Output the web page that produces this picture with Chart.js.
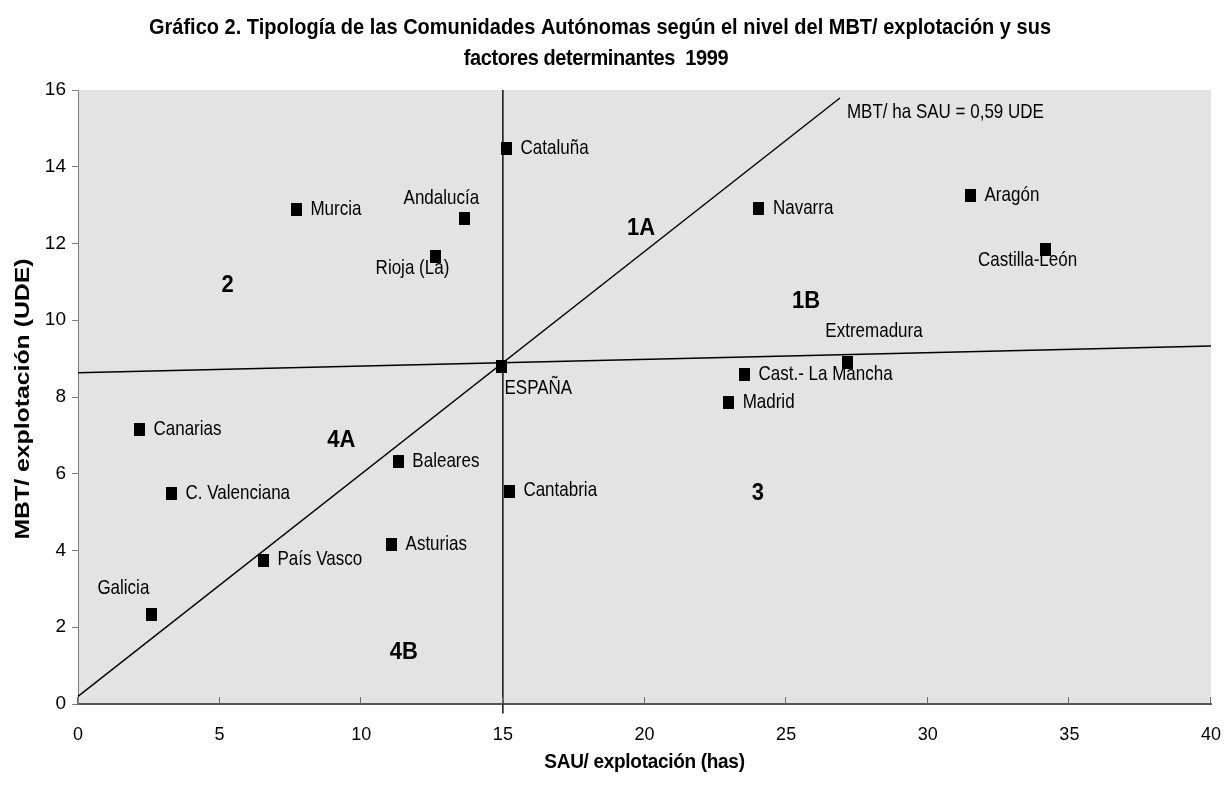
<!DOCTYPE html>
<html>
<head>
<meta charset="utf-8">
<script src="https://cdn.jsdelivr.net/npm/chart.js@4/dist/chart.umd.min.js"></script>
<style>
  html, body { margin: 0; padding: 0; background: #ffffff; }
  #wrap { width: 1226px; height: 787px; position: relative; }
</style>
</head>
<body>
<div id="wrap"><canvas id="c"></canvas></div>
<script>
// Comunidades Autónomas, 1999: SAU per holding (has) and MBT per holding (UDE)
const regions = ['Cataluña', 'Andalucía', 'Rioja (La)', 'Murcia', 'Navarra', 'Aragón',
  'Castilla-León', 'Extremadura', 'ESPAÑA', 'Cast.- La Mancha', 'Madrid', 'Canarias',
  'C. Valenciana', 'Baleares', 'Cantabria', 'Asturias', 'País Vasco', 'Galicia'];
const sauPerHolding = [15.13, 13.64, 12.62, 7.71, 24.04, 31.51, 34.16, 27.15, 14.95, 23.53,
  22.97, 2.17, 3.3, 11.31, 15.23, 11.07, 6.55, 2.59];
const mbtPerHolding = [14.48, 12.65, 11.66, 12.89, 12.92, 13.24, 11.85, 8.91, 8.79, 8.59,
  7.86, 7.15, 5.49, 6.31, 5.55, 4.16, 3.75, 2.33];

// Reference lines
const ratioLineX = [0, 26.9];
const ratioLineY = [0.2, 15.79];
const ratioLineLabel = 'MBT/ ha SAU = 0,59 UDE';
const mbtLevelLineX = [0, 40];
const mbtLevelLineY = [8.63, 9.33];
const sauLevelLineX = [15, 15];
const sauLevelLineY = [16, -0.25];

// Zone names and where they sit
const zoneNames = ['1A', '1B', '2', '3', '4A', '4B'];
const zoneX = [19.88, 25.7, 5.28, 24.0, 9.3, 11.5];
const zoneY = [12.4, 10.5, 10.9, 5.5, 6.87, 1.35];

// Axes
const xTicks = [0, 5, 10, 15, 20, 25, 30, 35, 40];
const yTicks = [0, 2, 4, 6, 8, 10, 12, 14, 16];
const titleLines = ['Gráfico 2. Tipología de las Comunidades Autónomas según el nivel del MBT/ explotación y sus',
  'factores determinantes  1999'];
const xAxisTitle = 'SAU/ explotación (has)';
const yAxisTitle = 'MBT/ explotación (UDE)';

// Label placement for each region: anchor side and pixel offset from the marker
const labelPlacement = {
  'Andalucía': { align: 'center', dx: -23, dy: -20 },
  'Rioja (La)': { align: 'center', dx: -23, dy: 12 },
  'Castilla-León': { align: 'center', dx: -18, dy: 11 },
  'Extremadura': { align: 'center', dx: 27, dy: -30 },
  'ESPAÑA': { align: 'left', dx: 3, dy: 22 },
  'Galicia': { align: 'center', dx: -28, dy: -26 }
};
const defaultPlacement = { align: 'left', dx: 14, dy: 0 };

const FONT = '"Liberation Sans", Arial, sans-serif';

const toPoints = (xs, ys) => xs.map((x, i) => ({ x: x, y: ys[i] }));

// marker: small black block, a little taller than wide
const marker = document.createElement('canvas');
marker.width = 11;
marker.height = 13;
(function () {
  const m = marker.getContext('2d');
  m.fillStyle = '#000000';
  m.fillRect(0, 0, 11, 13);
})();

// text drawn slightly taller than wide, like the printed typeface
function tallText(ctx, text, x, y, font, align, stretch, spacing) {
  ctx.save();
  ctx.font = font;
  ctx.letterSpacing = (spacing || 0) + 'px';
  ctx.textAlign = align;
  ctx.textBaseline = 'middle';
  ctx.translate(x, y);
  ctx.scale(1, stretch);
  ctx.fillText(text, 0, 0);
  ctx.restore();
}

const lineStyle = {
  showLine: true, borderColor: '#000000', borderWidth: 1.4, pointRadius: 0,
  pointHoverRadius: 0, fill: false, clip: false, tension: 0
};

const plotBackground = {
  id: 'plotBackground',
  beforeDraw(chart) {
    const { ctx, chartArea: a } = chart;
    ctx.save();
    ctx.fillStyle = '#e3e3e3';
    ctx.fillRect(a.left, a.top, a.right - a.left, a.bottom - a.top);
    ctx.restore();
  }
};

const annotations = {
  id: 'annotations',
  afterDatasetsDraw(chart) {
    const { ctx, scales: { x, y }, chartArea: a } = chart;
    ctx.save();

    // inner tick marks on the horizontal axis
    ctx.strokeStyle = '#6a6a6a';
    ctx.lineWidth = 1;
    xTicks.forEach(v => {
      const px = Math.round(x.getPixelForValue(v)) - 0.5;
      ctx.beginPath();
      ctx.moveTo(px, a.bottom);
      ctx.lineTo(px, a.bottom - 7);
      ctx.stroke();
    });
    ctx.fillStyle = '#000000';

    // region names
    regions.forEach((name, i) => {
      const p = labelPlacement[name] || defaultPlacement;
      tallText(ctx, name, x.getPixelForValue(sauPerHolding[i]) + p.dx,
        y.getPixelForValue(mbtPerHolding[i]) + p.dy, '17px ' + FONT, p.align, 1.15, 0);
    });

    // ratio line caption
    tallText(ctx, ratioLineLabel, x.getPixelForValue(ratioLineX[1]) + 7,
      y.getPixelForValue(ratioLineY[1]) + 15, '17px ' + FONT, 'left', 1.15, 0);

    // zone names
    zoneNames.forEach((z, i) => {
      tallText(ctx, z, x.getPixelForValue(zoneX[i]), y.getPixelForValue(zoneY[i]),
        'bold 22px ' + FONT, 'center', 1.1, 0);
    });

    ctx.restore();
  },
  afterDraw(chart) {
    const { ctx, chartArea: a } = chart;
    ctx.save();
    ctx.fillStyle = '#000000';

    // chart title
    tallText(ctx, titleLines[0], 600, 28, 'bold 20px ' + FONT, 'center', 1.12, 0);
    tallText(ctx, titleLines[1], 596, 59, 'bold 20px ' + FONT, 'center', 1.12, -0.4);

    // axis titles
    tallText(ctx, xAxisTitle, (a.left + a.right) / 2, 762, 'bold 19px ' + FONT, 'center', 1.1, -0.3);

    ctx.save();
    ctx.translate(23, (a.top + a.bottom) / 2 + 2);
    ctx.rotate(-Math.PI / 2);
    ctx.scale(1.24, 1);
    ctx.font = 'bold 20px ' + FONT;
    ctx.textAlign = 'center';
    ctx.textBaseline = 'middle';
    ctx.fillText(yAxisTitle, 0, 0);
    ctx.restore();

    ctx.restore();
  }
};

new Chart(document.getElementById('c'), {
  type: 'scatter',
  data: {
    datasets: [
      Object.assign({ label: 'ratio', data: toPoints(ratioLineX, ratioLineY) }, lineStyle),
      Object.assign({ label: 'mbt', data: toPoints(mbtLevelLineX, mbtLevelLineY) }, lineStyle),
      Object.assign({ label: 'sau', data: toPoints(sauLevelLineX, sauLevelLineY) }, lineStyle),
      {
        label: 'regions',
        data: toPoints(sauPerHolding, mbtPerHolding),
        pointStyle: marker,
        pointRadius: 7,
        pointHoverRadius: 7,
        backgroundColor: '#000000',
        borderWidth: 0,
        clip: false
      }
    ]
  },
  options: {
    responsive: true,
    maintainAspectRatio: false,
    animation: false,
    events: [],
    layout: { autoPadding: false, padding: { top: 90, right: 15, left: 0, bottom: 0 } },
    plugins: { legend: { display: false }, title: { display: false }, tooltip: { enabled: false } },
    scales: {
      x: {
        type: 'linear', min: 0, max: 40,
        afterBuildTicks: s => { s.ticks = xTicks.map(v => ({ value: v })); },
        afterFit: s => { s.height = 83; s.paddingLeft = 0; s.paddingRight = 0; },
        grid: { display: true, drawOnChartArea: false, drawTicks: false },
        border: { display: true, color: '#555555', width: 2 },
        ticks: { font: { family: FONT, size: 18 }, color: '#000000', padding: 20, maxRotation: 0 }
      },
      y: {
        type: 'linear', min: 0, max: 16,
        afterBuildTicks: s => { s.ticks = yTicks.map(v => ({ value: v })); },
        afterFit: s => { s.width = 78; s.paddingTop = 0; s.paddingBottom = 0; },
        grid: { display: true, drawOnChartArea: false, drawTicks: true, tickLength: 6, color: '#808080' },
        border: { display: true, color: '#808080', width: 1 },
        ticks: { font: { family: FONT, size: 19 }, color: '#000000', padding: 6 }
      }
    }
  },
  plugins: [plotBackground, annotations]
});
</script>
</body>
</html>
